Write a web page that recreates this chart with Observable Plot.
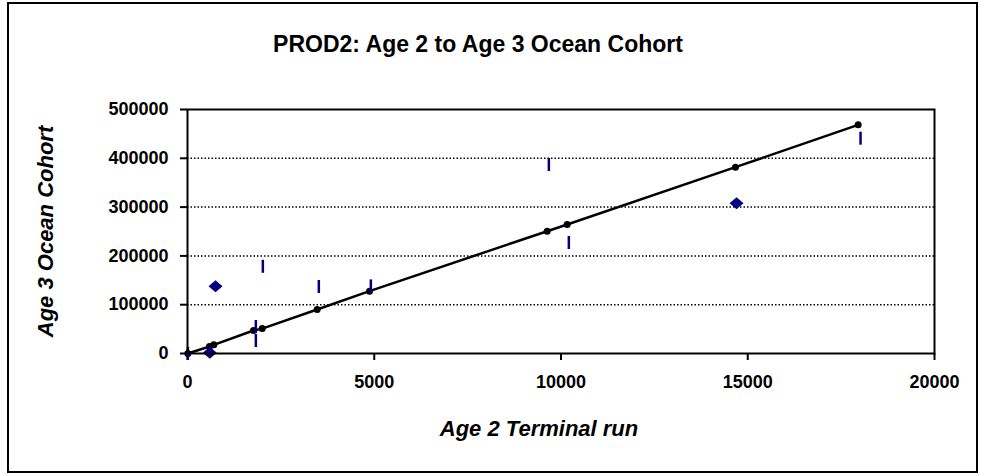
<!DOCTYPE html>
<html>
<head>
<meta charset="utf-8">
<script src="https://cdn.jsdelivr.net/npm/d3@7"></script>
<script src="https://cdn.jsdelivr.net/npm/@observablehq/plot@0.6"></script>
<style>
  html, body { margin: 0; padding: 0; background: #fff; }
  #wrap { position: relative; width: 984px; height: 476px; overflow: hidden; font-family: "Liberation Sans", Arial, sans-serif; }
  #border { position: absolute; left: 7px; top: 2px; width: 971px; height: 471px; border: 2px solid #000; box-sizing: border-box; pointer-events: none; }
  #title { position: absolute; left: 0; top: 33px; width: 956px; text-align: center; font-weight: bold; font-size: 23px; line-height: 1; color: #000; }
  #chart { position: absolute; left: 0; top: 0; }
</style>
</head>
<body>
<div id="wrap">
  <div id="chart"></div>
  <div id="title">PROD2: Age 2 to Age 3 Ocean Cohort</div>
  <div id="border"></div>
</div>
<script>
// Predicted (regression) points: Age 2 terminal run vs Age 3 ocean cohort
const predX = [10, 589, 705, 1767, 2000, 3472, 4873, 9630, 10165, 14672, 17956];
const predY = [0, 14300, 17800, 47100, 51000, 90200, 127700, 250600, 264300, 381800, 468600];

// Observed points shown as short vertical bars
const barX = [10, 1830, 1830, 2017, 3516, 4909, 9675, 10210, 18020];
const barY = [0, 55300, 26600, 178700, 137300, 138500, 387300, 227500, 441200];

// Observed points shown as diamonds
const diaX = [597, 750, 14700];
const diaY = [1400, 137900, 308000];

const xTicks = [0, 5000, 10000, 15000, 20000];
const yTicks = [0, 100000, 200000, 300000, 400000, 500000];
const gridY = [100000, 200000, 300000, 400000];
const xTitle = ["Age 2 Terminal run"];
const yTitle = ["Age 3 Ocean Cohort"];

const pred = predX.map((x, i) => ({x, y: predY[i]}));
const bars = barX.map((x, i) => ({x, y: barY[i]}));
const dias = diaX.map((x, i) => ({x, y: diaY[i]}));

const vbar = { draw(ctx, size) { ctx.moveTo(0, -6.5); ctx.lineTo(0, 6.5); } };
const wideDiamond = { draw(ctx, size) { ctx.moveTo(-7, 0); ctx.lineTo(0, -6); ctx.lineTo(7, 0); ctx.lineTo(0, 6); ctx.closePath(); } };

const navy = "#000080";

const chart = Plot.plot({
  width: 984,
  height: 476,
  marginTop: 109,
  marginLeft: 187,
  marginRight: 50,
  marginBottom: 123,
  style: { fontFamily: '"Liberation Sans", Arial, sans-serif', fontSize: "18px", fontWeight: "bold", color: "#000", background: "transparent" },
  x: { domain: [0, 20000] },
  y: { domain: [0, 500000] },
  marks: [
    Plot.ruleY(gridY, { stroke: "#000", strokeWidth: 1.5, strokeDasharray: "1.5,2" }),
    Plot.axisX({ ticks: xTicks, tickFormat: d => String(d), tickSize: 7, tickPadding: 15, strokeWidth: 2, label: null }),
    Plot.axisY({ ticks: yTicks, tickFormat: d => String(d), tickSize: 7, tickPadding: 12, strokeWidth: 2, label: null }),
    Plot.text(xTitle, { text: d => d, frameAnchor: "bottom", dy: 75, dx: -22, textAnchor: "middle", lineAnchor: "middle", fontSize: 22, fontStyle: "italic", fontWeight: "bold", fill: "#000" }),
    Plot.text(yTitle, { text: d => d, frameAnchor: "left", dx: -142, rotate: -90, textAnchor: "middle", lineAnchor: "middle", fontSize: 22, fontStyle: "italic", fontWeight: "bold", fill: "#000" }),
    Plot.line(pred, { x: "x", y: "y", stroke: "#000", strokeWidth: 2.5 }),
    Plot.dot(pred, { x: "x", y: "y", r: 3.5, fill: "#000", stroke: "none" }),
    Plot.dot(bars, { x: "x", y: "y", symbol: vbar, fill: "none", stroke: navy, strokeWidth: 2.5 }),
    Plot.dot(dias, { x: "x", y: "y", symbol: wideDiamond, fill: navy, stroke: "none" }),
    Plot.frame({ stroke: "#000", strokeWidth: 2 })
  ]
});
document.getElementById("chart").appendChild(chart);
</script>
</body>
</html>
